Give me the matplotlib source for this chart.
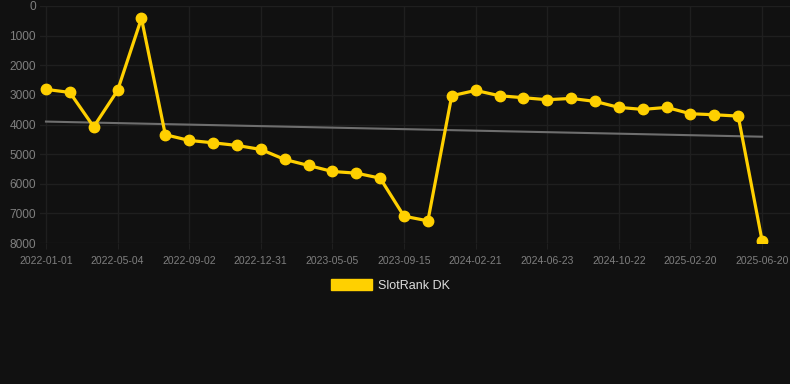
import numpy as np
import matplotlib
matplotlib.use('Agg')
import matplotlib.pyplot as plt
from matplotlib.patches import Patch

plt.rcParams['font.family'] = ['Liberation Sans', 'DejaVu Sans']

# 数据：SlotRank DK 排名
rank = [2815, 2917, 4077, 2850, 417, 4345, 4538, 4617, 4707, 4842,
        5180, 5383, 5586, 5642, 5811, 7095, 7252, 3029, 2850, 3029,
        3096, 3164, 3119, 3220, 3423, 3490, 3423, 3637, 3671, 3716, 7918]
tick_labels = ['2022-01-01', '2022-05-04', '2022-09-02', '2022-12-31', '2023-05-05',
               '2023-09-15', '2024-02-21', '2024-06-23', '2024-10-22', '2025-02-20',
               '2025-06-20']
y_ticks = [0, 1000, 2000, 3000, 4000, 5000, 6000, 7000, 8000]

bg = '#111111'
grid_c = '#1f1f1f'
text_c = '#7f7f7f'
gold = '#ffd000'

fig = plt.figure(figsize=(7.9, 3.84), dpi=100, facecolor=bg)
ax = fig.add_axes([40 / 790, 1 - 243 / 384, 750 / 790, 237 / 384])
ax.set_facecolor(bg)

x = np.arange(len(rank))

# 趋势线
k, b = np.polyfit(x, rank, 1)
ax.plot(x, k * x + b, color='#6e6e6e', linewidth=1.5, zorder=2)

ax.plot(x, rank, color=gold, linewidth=2.3, marker='o', markersize=7.5,
        markerfacecolor=gold, markeredgecolor=gold, zorder=3)

ax.set_ylim(8000, 0)
ax.set_yticks(y_ticks)
ax.set_xlim(-0.25, 31.17)
ax.set_xticks(x[::3])
ax.set_xticklabels(tick_labels)

ax.grid(True, color=grid_c, linewidth=1)
ax.set_axisbelow(True)
for s in ax.spines.values():
    s.set_visible(False)
ax.tick_params(axis='x', colors=text_c, labelsize=7.5, length=4, color=grid_c, pad=5)
ax.tick_params(axis='y', colors=text_c, labelsize=8.6, length=0, pad=3)

fig.legend(handles=[Patch(facecolor=gold, edgecolor=gold, label='SlotRank DK')],
           loc='center', bbox_to_anchor=(0.494, 0.256), frameon=False,
           fontsize=9, labelcolor='#dddddd', handlelength=3.3, handleheight=1.0,
           handletextpad=0.5)

plt.savefig('out.png', dpi=100, facecolor=bg)
plt.close()
